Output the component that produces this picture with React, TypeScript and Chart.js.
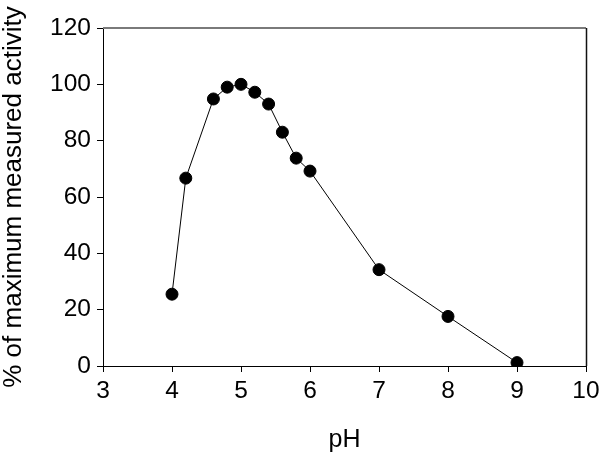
import React, { useEffect, useRef } from "react";
import { Chart, registerables } from "chart.js";

Chart.register(...registerables);

const phValues = [4, 4.2, 4.6, 4.8, 5, 5.2, 5.4, 5.6, 5.8, 6, 7, 8, 9];
const activity = [25.5, 66.7, 94.8, 99, 100, 97.2, 93, 83, 73.8, 69.2, 34.2, 17.6, 1.2];
const xTitle = "pH";
const yTitle = "% of maximum measured activity";

const frame = {
  id: "frame",
  afterDraw(chart: any) {
    const { ctx, chartArea } = chart;
    ctx.save();
    ctx.lineWidth = 2;
    ctx.strokeStyle = "#7a7a7a";
    ctx.beginPath();
    ctx.moveTo(chartArea.left, chartArea.top);
    ctx.lineTo(chartArea.right, chartArea.top);
    ctx.stroke();
    ctx.strokeStyle = "#111";
    ctx.lineWidth = 1.5;
    ctx.beginPath();
    ctx.moveTo(chartArea.right + 0.5, chartArea.top);
    ctx.lineTo(chartArea.right + 0.5, chartArea.bottom);
    ctx.stroke();
    ctx.restore();
  },
};

export default function App() {
  const ref = useRef<HTMLCanvasElement>(null);
  useEffect(() => {
    const family = "'Liberation Sans', Arial, sans-serif";
    const tickFont = { family, size: 24.5 };
    const chart = new Chart(ref.current!, {
      type: "line",
      data: {
        datasets: [
          {
            data: phValues.map((x, i) => ({ x, y: activity[i] })),
            borderColor: "#000",
            borderWidth: 1,
            backgroundColor: "#000",
            pointBackgroundColor: "#000",
            pointBorderColor: "#000",
            pointRadius: 6,
            tension: 0,
          },
        ],
      },
      options: {
        responsive: false,
        animation: false,
        layout: { padding: { left: 0, top: 28, right: 14, bottom: 0 } },
        plugins: { legend: { display: false }, tooltip: { enabled: false } },
        scales: {
          x: {
            type: "linear",
            min: 3,
            max: 10,
            ticks: { stepSize: 1, color: "#000", font: tickFont, padding: 5 },
            grid: { drawOnChartArea: false, drawTicks: true, tickLength: 6, color: "#000" },
            border: { color: "#000", width: 1 },
            title: {
              display: true,
              text: xTitle,
              color: "#000",
              font: { family, size: 25, lineHeight: 1 },
              padding: { top: 10, bottom: 0 },
            },
            afterFit: (s: any) => {
              s.height = 87;
              s.paddingLeft = 0;
              s.paddingRight = 0;
            },
          },
          y: {
            min: 0,
            max: 120,
            ticks: { stepSize: 20, color: "#000", font: tickFont, padding: 6 },
            grid: { drawOnChartArea: false, drawTicks: true, tickLength: 6, color: "#000" },
            border: { color: "#000", width: 1 },
            title: {
              display: true,
              text: yTitle,
              color: "#000",
              font: { family, size: 26, lineHeight: 1.1 },
              padding: { top: 0, bottom: 8 },
            },
            afterFit: (s: any) => {
              s.width = 103;
              s.paddingTop = 0;
              s.paddingBottom = 0;
            },
          },
        },
      },
      plugins: [frame],
    } as any);
    return () => chart.destroy();
  }, []);
  return (
    <div style={{ position: "fixed", left: 0, top: 0, width: 600, height: 453, background: "#fff" }}>
      <canvas ref={ref} width={600} height={453} />
    </div>
  );
}
